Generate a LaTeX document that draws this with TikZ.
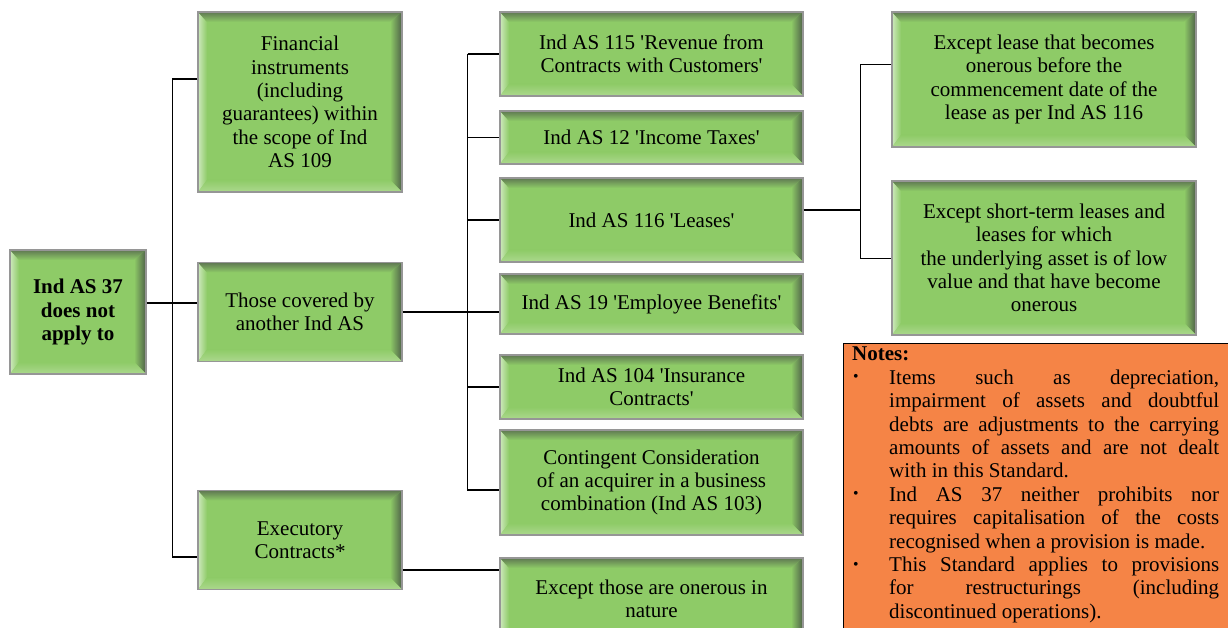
\documentclass[tikz,border=0pt]{standalone}
\usepackage{fontspec}
\setmainfont{Liberation Serif}[Ligatures=TeXOff]
\usetikzlibrary{calc}
\newcommand\myleftlabel[1]{\hspace{1pt}#1\hfil}
\definecolor{gbase}{RGB}{142,203,103}
\definecolor{gtop}{RGB}{95,120,82}
\definecolor{gright}{RGB}{78,96,72}
\definecolor{gleft}{RGB}{205,232,188}
\definecolor{gbottom}{RGB}{172,216,142}
\definecolor{gline}{RGB}{150,150,150}
\definecolor{notefill}{RGB}{245,132,70}
\tikzset{
  gbox/.style={draw=gline, line width=1.3pt, fill=gbase, align=center, inner sep=2pt,
    font=\fontsize{21}{23.4}\selectfont,
    path picture={
      \path (path picture bounding box.south west) coordinate (bbsw)
            (path picture bounding box.north west) coordinate (bbnw)
            (path picture bounding box.north east) coordinate (bbne)
            (path picture bounding box.south east) coordinate (bbse);
      \shade[left color=gleft, right color=gbase] (bbsw) -- (bbnw) -- ([shift={(9pt,-10pt)}]bbnw) -- ([shift={(9pt,12pt)}]bbsw) -- cycle;
      \shade[top color=gtop, bottom color=gbase] (bbnw) -- (bbne) -- ([shift={(-12pt,-10pt)}]bbne) -- ([shift={(9pt,-10pt)}]bbnw) -- cycle;
      \shade[left color=gbase, right color=gright] (bbne) -- (bbse) -- ([shift={(-12pt,12pt)}]bbse) -- ([shift={(-12pt,-10pt)}]bbne) -- cycle;
      \shade[top color=gbase, bottom color=gbottom] (bbse) -- (bbsw) -- ([shift={(9pt,12pt)}]bbsw) -- ([shift={(-12pt,12pt)}]bbse) -- cycle;
    }},
  conn/.style={draw=black, line width=1.3pt},
  notebox/.style={draw=black, line width=1pt, fill=notefill},
  notetext/.style={anchor=north west, inner sep=0pt, text width=367pt, align=justify,
    font=\fontsize{21}{23.4}\selectfont}
}
\begin{document}
\begin{tikzpicture}[x=1pt,y=-1pt]
\useasboundingbox (0,0) rectangle (1228,628);
% level 0
\node[gbox, minimum width=136pt, minimum height=124pt, font=\fontsize{21}{23.4}\selectfont\bfseries] (root) at (78,312) {Ind AS 37\\does not\\apply to};
% level 1
\node[gbox, minimum width=204pt, minimum height=180pt] (fin) at (300,102) {Financial\\instruments\\(including\\guarantees) within\\the scope of Ind\\AS 109};
\node[gbox, minimum width=204pt, minimum height=99pt] (cov) at (300,312) {Those covered by\\another Ind AS};
\node[gbox, minimum width=204pt, minimum height=99pt] (exe) at (300,540) {Executory\\Contracts*};
% level 2
\node[gbox, minimum width=303pt, minimum height=84pt] (m115) at (651.5,54) {Ind AS 115 'Revenue from\\Contracts with Customers'};
\node[gbox, minimum width=303pt, minimum height=53pt] (m12) at (651.5,137.5) {Ind AS 12 'Income Taxes'};
\node[gbox, minimum width=303pt, minimum height=84pt] (m116) at (651.5,220) {Ind AS 116 'Leases'};
\node[gbox, minimum width=303pt, minimum height=60pt] (m19) at (651.5,304) {Ind AS 19 'Employee Benefits'};
\node[gbox, minimum width=303pt, minimum height=64pt] (m104) at (651.5,387) {Ind AS 104 'Insurance\\Contracts'};
\node[gbox, minimum width=303pt, minimum height=105pt] (mcc) at (651.5,482.5) {Contingent Consideration\\of an acquirer in a business\\combination (Ind AS 103)};
\node[gbox, minimum width=303pt, minimum height=82pt] (mexc) at (651.5,599) {Except those are onerous in\\nature};
% level 3
\node[gbox, minimum width=304pt, minimum height=135pt] (r1) at (1044,79.5) {Except lease that becomes\\onerous before the\\commencement date of the\\lease as per Ind AS 116};
\node[gbox, minimum width=304pt, minimum height=154pt] (r2) at (1044,258) {Except short-term leases and\\leases for which\\the underlying asset is of low\\value and that have become\\onerous};
% notes
\node[notebox, anchor=north west, minimum width=390pt, minimum height=290pt, inner sep=0pt] (notes) at (843,343) {};
\node[notetext] (notestxt) at (852,347) {%
  \hyphenpenalty=10000\relax
  \textbf{Notes:}\par
  \begin{list}{\raisebox{2.5pt}{\scalebox{0.75}{\textbullet}}}{\setlength{\leftmargin}{37pt}\setlength{\labelwidth}{37pt}\setlength{\labelsep}{0pt}\setlength{\itemsep}{0pt}\setlength{\parsep}{0pt}\setlength{\topsep}{0pt}\setlength{\partopsep}{0pt}\let\makelabel\myleftlabel}
  \item Items such as depreciation,\linebreak impairment of assets and doubtful\linebreak debts are adjustments to the carrying\linebreak amounts of assets and are not dealt\linebreak with in this Standard.
  \item Ind AS 37 neither prohibits nor\linebreak requires capitalisation of the costs\linebreak recognised when a provision is made.
  \item This Standard applies to provisions\linebreak for restructurings (including\linebreak discontinued operations).
  \end{list}};
% connectors level 0 -> 1
\draw[conn] ([yshift=9pt]root.east) -- ++(26,0) coordinate (j1);
\draw[conn] ([yshift=23pt]fin.west) -| (j1) |- ([yshift=-17pt]exe.west);
\draw[conn] (j1) -- ([yshift=9pt]cov.west);
% connectors level 1 -> 2
\draw[conn] (cov.east) -- ++(65,0) coordinate (j2) -- (j2 -| m19.west);
\draw[conn] (j2 |- m115.west) -- (m115.west);
\draw[conn] (j2 |- m12.west) -- (m12.west);
\draw[conn] (j2 |- m116.west) -- (m116.west);
\draw[conn] (j2 |- m104.west) -- (m104.west);
\coordinate (ccw) at ([yshift=-7.5pt]mcc.west);
\draw[conn] (j2 |- m115.west) -- (j2 |- ccw) -- (ccw);
\draw[conn] ([yshift=-30pt]exe.east) coordinate (e1) -- (e1 -| mexc.west);
% connectors level 2 -> 3
\draw[conn] ([yshift=10pt]m116.east) -- ++(57,0) coordinate (j3);
\draw[conn, line width=1pt] ([yshift=14.5pt]r1.west) -| (j3) |- ([yshift=-1pt]r2.west);
\end{tikzpicture}
\end{document}
